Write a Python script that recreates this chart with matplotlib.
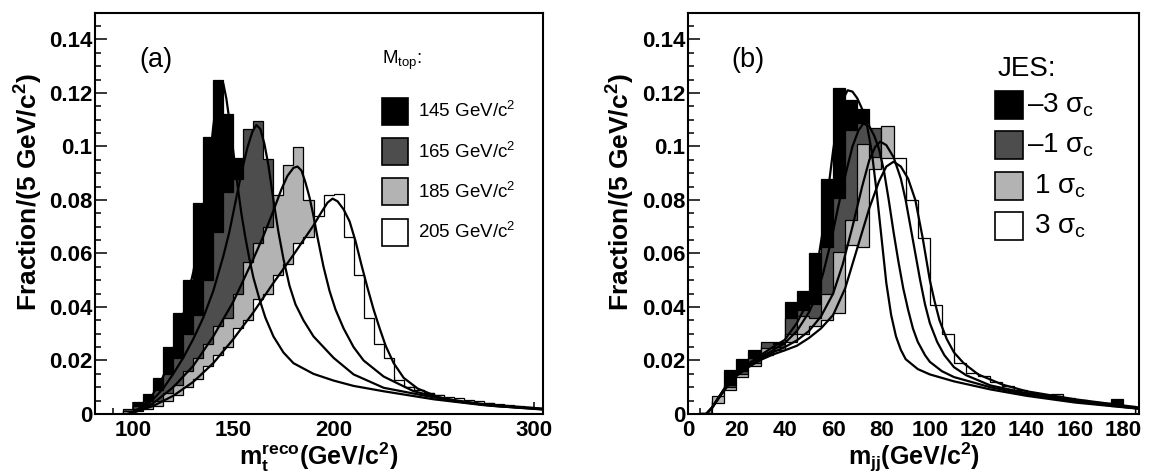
"""
Reconstructed-mass templates: m_t^reco for several top masses (a)
and dijet mass m_jj for several JES shifts (b).
"""

import matplotlib
matplotlib.use("Agg")
import matplotlib.pyplot as plt
import numpy as np
from matplotlib.patches import Rectangle
from matplotlib.ticker import MultipleLocator, FuncFormatter

plt.rcParams.update({
    "font.family": ["Liberation Sans", "DejaVu Sans"],
    "mathtext.fontset": "custom",
    "mathtext.rm": "Liberation Sans",
    "mathtext.it": "Liberation Sans",
    "mathtext.sf": "Liberation Sans",
    "mathtext.bf": "Liberation Sans:bold",
})

# ---------------- panel (a): m_t^reco, 5 GeV bins starting at 80 ----------------
bins_a_start = 80
mtop_labels = ["145 GeV/c$^2$", "165 GeV/c$^2$", "185 GeV/c$^2$", "205 GeV/c$^2$"]

hist_145 = [0, 0, 0, 0.001, 0.0045, 0.0075, 0.0134, 0.025, 0.0376, 0.050, 0.0787, 0.1035,
            0.1247, 0.112, 0.0955, 0.068, 0.048, 0.034, 0.027, 0.022, 0.018, 0.016, 0.014,
            0.013, 0.012, 0.011, 0.010, 0.009, 0.0085, 0.008, 0.007, 0.0065, 0.006, 0.0055,
            0.005, 0.0045, 0.004, 0.0035, 0.003, 0.003, 0.0025, 0.002, 0.002, 0.0015, 0.0015]
hist_165 = [0, 0, 0, 0.002, 0.003, 0.005, 0.009, 0.015, 0.021, 0.030, 0.037, 0.050,
            0.068, 0.083, 0.088, 0.1066, 0.1095, 0.0954, 0.075, 0.055, 0.040, 0.031, 0.025,
            0.021, 0.018, 0.015, 0.013, 0.011, 0.010, 0.009, 0.008, 0.0075, 0.007, 0.0065,
            0.006, 0.0055, 0.005, 0.0045, 0.004, 0.0035, 0.003, 0.0028, 0.0025, 0.002, 0.0018]
hist_185 = [0, 0, 0, 0.001, 0.002, 0.003, 0.005, 0.008, 0.011, 0.016, 0.021, 0.026,
            0.033, 0.036, 0.045, 0.057, 0.064, 0.070, 0.0817, 0.093, 0.0998, 0.080, 0.068,
            0.058, 0.046, 0.036, 0.028, 0.022, 0.017, 0.014, 0.012, 0.010, 0.009, 0.008,
            0.007, 0.006, 0.0055, 0.005, 0.0045, 0.004, 0.0035, 0.003, 0.0028, 0.0025, 0.002]
hist_205 = [0, 0, 0, 0.0005, 0.001, 0.002, 0.003, 0.005, 0.007, 0.010, 0.013, 0.018,
            0.022, 0.025, 0.032, 0.035, 0.043, 0.045, 0.052, 0.056, 0.064, 0.066, 0.074,
            0.0817, 0.0824, 0.066, 0.052, 0.036, 0.026, 0.021, 0.0127, 0.0102, 0.009, 0.008,
            0.0072, 0.0065, 0.0058, 0.0052, 0.0047, 0.0042, 0.0038, 0.0034, 0.003, 0.0027, 0.0024]

fit_145_x = [97, 100, 105, 110, 115, 120, 125, 130, 133, 135, 137.5, 140, 142, 143.5, 145,
             146.5, 148, 150, 152, 154, 156, 158, 160, 163, 166, 170, 175, 180, 190, 200,
             210, 225, 250, 275, 304]
fit_145_y = [0, 0.0008, 0.003, 0.0075, 0.014, 0.024, 0.037, 0.053, 0.065, 0.076, 0.090,
             0.1075, 0.119, 0.124, 0.1235, 0.118, 0.110, 0.098, 0.086, 0.075, 0.066, 0.058,
             0.051, 0.043, 0.036, 0.029, 0.023, 0.019, 0.015, 0.0125, 0.0105, 0.0085,
             0.0055, 0.0033, 0.0017]
fit_165_x = [100, 105, 110, 115, 120, 125, 130, 135, 140, 145, 148, 151, 154, 157, 159.5,
             161.5, 163.5, 165.5, 167.5, 170, 172.5, 175, 178, 181, 185, 190, 200, 210,
             225, 250, 275, 304]
fit_165_y = [0.0005, 0.0025, 0.0055, 0.0095, 0.015, 0.021, 0.028, 0.036, 0.046, 0.059,
             0.068, 0.079, 0.090, 0.0995, 0.1055, 0.108, 0.1065, 0.101, 0.093, 0.080,
             0.068, 0.058, 0.048, 0.041, 0.035, 0.029, 0.021, 0.0148, 0.0098, 0.0062,
             0.0037, 0.002]
fit_185_x = [100, 110, 120, 130, 140, 150, 155, 160, 165, 170, 174, 177, 180, 182, 184,
             186, 188, 190, 192, 195, 198, 201, 205, 210, 215, 225, 240, 260, 280, 304]
fit_185_y = [0.0005, 0.004, 0.010, 0.018, 0.029, 0.042, 0.050, 0.058, 0.0665, 0.076,
             0.084, 0.089, 0.092, 0.0925, 0.091, 0.0865, 0.081, 0.074, 0.066, 0.055, 0.046,
             0.039, 0.032, 0.025, 0.020, 0.014, 0.0085, 0.0048, 0.0031, 0.0019]
fit_205_x = [100, 110, 120, 130, 140, 150, 160, 170, 180, 185, 190, 194, 197, 199.5, 202,
             205, 208, 211, 214, 217, 220, 223, 226, 230, 235, 242, 252, 265, 280, 304]
fit_205_y = [0.0005, 0.003, 0.0068, 0.012, 0.019, 0.028, 0.038, 0.049, 0.0595, 0.065,
             0.0705, 0.0755, 0.079, 0.0805, 0.0795, 0.0765, 0.072, 0.0645, 0.0555, 0.047,
             0.039, 0.032, 0.0255, 0.019, 0.0135, 0.0095, 0.0064, 0.0044, 0.003, 0.0018]

# ---------------- panel (b): m_jj, 5 GeV bins starting at 0 ----------------
bins_b_start = 0
jes_labels = ["\u20133 $\\sigma_c$", "\u20131 $\\sigma_c$", " 1 $\\sigma_c$", " 3 $\\sigma_c$"]

hist_m3 = [0, 0.0004, 0.005, 0.0165, 0.0205, 0.024, 0.0255, 0.027, 0.042, 0.046, 0.060,
           0.088, 0.1217, 0.1175, 0.114, 0.090, 0.060, 0.038, 0.025, 0.018, 0.014, 0.012,
           0.010, 0.009, 0.008, 0.0075, 0.007, 0.0065, 0.006, 0.0055, 0.005, 0.0045, 0.004,
           0.0035, 0.003, 0.0056, 0.002]
hist_m1 = [0, 0.0005, 0.005, 0.011, 0.016, 0.021, 0.027, 0.026, 0.036, 0.039, 0.041,
           0.0626, 0.0806, 0.106, 0.1086, 0.107, 0.095, 0.070, 0.045, 0.030, 0.022, 0.017,
           0.013, 0.011, 0.0095, 0.0085, 0.0075, 0.007, 0.0065, 0.006, 0.0055, 0.005,
           0.0045, 0.004, 0.0035, 0.003, 0.0025]
hist_p1 = [0, 0.0005, 0.0066, 0.010, 0.015, 0.019, 0.0245, 0.025, 0.030, 0.0365, 0.036,
           0.045, 0.0607, 0.0725, 0.101, 0.096, 0.1076, 0.085, 0.060, 0.040, 0.028, 0.020,
           0.015, 0.012, 0.010, 0.009, 0.008, 0.0075, 0.007, 0.0065, 0.0075, 0.0055, 0.005,
           0.0045, 0.004, 0.0035, 0.003]
hist_p3 = [0, 0.0003, 0.004, 0.009, 0.014, 0.018, 0.022, 0.024, 0.027, 0.030, 0.033,
           0.035, 0.0377, 0.063, 0.0626, 0.0915, 0.0955, 0.0955, 0.080, 0.0657, 0.0408,
           0.030, 0.019, 0.0153, 0.0143, 0.0118, 0.0103, 0.0088, 0.0078, 0.007, 0.0062,
           0.0058, 0.0052, 0.0045, 0.004, 0.003, 0.0025]

fit_m3_x = [7.5, 10, 12.5, 15, 17.5, 20, 25, 30, 35, 40, 45, 50, 53, 56, 58, 60, 62, 64,
            66, 68, 70, 72, 74, 76, 78, 80, 82, 84, 86, 88, 90, 95, 100, 110, 125, 140,
            160, 186]
fit_m3_y = [0, 0.0025, 0.006, 0.0095, 0.0125, 0.015, 0.0188, 0.022, 0.025, 0.0277, 0.034,
            0.0427, 0.053, 0.070, 0.084, 0.0985, 0.110, 0.1175, 0.121, 0.1205, 0.118,
            0.114, 0.108, 0.098, 0.083, 0.066, 0.049, 0.037, 0.029, 0.024, 0.0205, 0.0168,
            0.0148, 0.0122, 0.0092, 0.0068, 0.0043, 0.002]
fit_m1_x = [7.5, 10, 12.5, 15, 17.5, 20, 25, 30, 35, 40, 45, 50, 53, 56, 59, 62, 65, 68,
            70.5, 72.5, 75, 77, 79, 81, 83, 85, 87, 89, 91, 93, 95, 98, 100, 105, 110,
            125, 140, 160, 186]
fit_m1_y = [0, 0.0025, 0.006, 0.0093, 0.0122, 0.0147, 0.0183, 0.0213, 0.0238, 0.0265,
            0.031, 0.038, 0.044, 0.053, 0.064, 0.077, 0.089, 0.100, 0.106, 0.1086, 0.1075,
            0.104, 0.099, 0.091, 0.080, 0.068, 0.057, 0.047, 0.039, 0.032, 0.027, 0.022,
            0.0195, 0.016, 0.0138, 0.0100, 0.0073, 0.0046, 0.0021]
fit_p1_x = [7.5, 10, 12.5, 15, 17.5, 20, 25, 30, 35, 40, 45, 50, 55, 60, 64, 68, 72, 75,
            77.5, 79.5, 82, 85, 88, 90, 92, 94, 96, 98, 100, 103, 106, 110, 115, 125, 140,
            160, 186]
fit_p1_y = [0, 0.0024, 0.0058, 0.009, 0.012, 0.0145, 0.018, 0.0208, 0.023, 0.025, 0.0275,
            0.031, 0.0365, 0.045, 0.056, 0.070, 0.085, 0.095, 0.100, 0.1018, 0.1005, 0.096,
            0.088, 0.080, 0.070, 0.060, 0.050, 0.041, 0.034, 0.027, 0.022, 0.0175, 0.0145,
            0.0107, 0.0078, 0.005, 0.0022]
fit_p3_x = [7.5, 10, 12.5, 15, 17.5, 20, 25, 30, 35, 40, 45, 50, 55, 60, 65, 70, 75, 79,
            82, 85, 88, 91, 94, 97, 100, 102, 104, 107, 110, 114, 120, 130, 140, 160, 186]
fit_p3_y = [0, 0.0023, 0.0056, 0.0088, 0.0117, 0.0142, 0.0175, 0.0202, 0.0222, 0.0238,
            0.0255, 0.0284, 0.032, 0.037, 0.047, 0.062, 0.077, 0.087, 0.0925, 0.0943,
            0.0925, 0.088, 0.080, 0.066, 0.050, 0.042, 0.035, 0.028, 0.023, 0.019, 0.0148,
            0.011, 0.0085, 0.0055, 0.0025]

FILL_COLORS = ["#000000", "#4d4d4d", "#b3b3b3", "#ffffff"]
BIN_WIDTH = 5


def draw_histos(ax, start, histos, fits):
    for values, color in zip(histos, FILL_COLORS):
        edges = start + BIN_WIDTH * np.arange(len(values) + 1)
        ax.stairs(values, edges, fill=True, facecolor=color, edgecolor="black",
                  linewidth=0.9, zorder=2)
    for fx, fy in fits:
        ax.plot(fx, fy, color="black", linewidth=1.6, zorder=3)


def style_axes(ax, xmajor, xminor):
    ax.set_ylim(0, 0.15)
    ax.xaxis.set_major_locator(MultipleLocator(xmajor))
    ax.xaxis.set_minor_locator(MultipleLocator(xminor))
    ax.yaxis.set_major_locator(MultipleLocator(0.02))
    ax.yaxis.set_minor_locator(MultipleLocator(0.005))
    ax.yaxis.set_major_formatter(FuncFormatter(lambda v, p: f"{v:g}"))
    ax.tick_params(which="both", direction="in", top=False, right=False, width=1.1)
    ax.tick_params(which="major", length=8.5)
    ax.tick_params(which="minor", length=4.3)
    ax.tick_params(axis="x", pad=4)
    ax.tick_params(axis="y", pad=2)
    for lab in ax.get_xticklabels() + ax.get_yticklabels():
        lab.set_fontsize(16)
        lab.set_fontweight("bold")
    for sp in ax.spines.values():
        sp.set_linewidth(1.5)
    ax.set_ylabel("Fraction/(5 GeV/c$^{\\mathbf{2}}$)", fontsize=19, fontweight="bold")
    ax.yaxis.set_label_coords(-0.148, 0.553)
    ax.yaxis.label.set_verticalalignment("center")


def draw_legend(ax, title, title_xy, title_size, labels, x0, rows, w, h, text_x, size):
    ax.text(title_xy[0], title_xy[1], title, transform=ax.transAxes, fontsize=title_size,
            va="center", ha="left")
    for label, color, yc in zip(labels, FILL_COLORS, rows):
        ax.add_patch(Rectangle((x0, yc - h / 2), w, h, transform=ax.transAxes,
                               facecolor=color, edgecolor="black", linewidth=1.2,
                               clip_on=False, zorder=4))
        ax.text(text_x, yc, label, transform=ax.transAxes, fontsize=size,
                va="center", ha="left")


def main():
    fig = plt.figure(figsize=(11.49, 4.75), dpi=100)
    ax_a = fig.add_axes([0.0827, 0.1284, 0.3899, 0.8449])
    ax_b = fig.add_axes([0.5988, 0.1284, 0.3925, 0.8449])

    # (a) top-mass templates
    draw_histos(ax_a, bins_a_start, [hist_145, hist_165, hist_185, hist_205],
                [(fit_145_x, fit_145_y), (fit_165_x, fit_165_y),
                 (fit_185_x, fit_185_y), (fit_205_x, fit_205_y)])
    ax_a.set_xlim(81, 304.5)
    style_axes(ax_a, 50, 10)
    ax_a.set_xlabel("$\\mathbf{m}_{\\mathbf{t}}^{\\mathbf{reco}}$(GeV/c$^{\\mathbf{2}}$)",
                    fontsize=18, fontweight="bold")
    ax_a.xaxis.set_label_coords(0.5, -0.107)
    ax_a.xaxis.label.set_verticalalignment("center")
    ax_a.text(0.136, 0.882, "(a)", transform=ax_a.transAxes, fontsize=19.5,
              ha="center", va="center")
    draw_legend(ax_a, "M$_{top}$:", (0.641, 0.88), 13.5, mtop_labels,
                0.6406, [0.755, 0.6535, 0.5535, 0.4535], 0.058, 0.0673, 0.721, 13.5)

    # (b) JES templates
    draw_histos(ax_b, bins_b_start, [hist_m3, hist_m1, hist_p1, hist_p3],
                [(fit_m3_x, fit_m3_y), (fit_m1_x, fit_m1_y),
                 (fit_p1_x, fit_p1_y), (fit_p3_x, fit_p3_y)])
    ax_b.set_xlim(0, 186.5)
    style_axes(ax_b, 20, 5)
    ax_b.set_xlabel("$\\mathbf{m}_{\\mathbf{jj}}$(GeV/c$^{\\mathbf{2}}$)",
                    fontsize=18, fontweight="bold")
    ax_b.xaxis.set_label_coords(0.5, -0.107)
    ax_b.xaxis.label.set_verticalalignment("center")
    ax_b.text(0.133, 0.882, "(b)", transform=ax_b.transAxes, fontsize=19.5,
              ha="center", va="center")
    draw_legend(ax_b, "JES:", (0.687, 0.86), 20, jes_labels,
                0.6807, [0.770, 0.6706, 0.5685, 0.4688], 0.062, 0.0698, 0.7517, 20)

    fig.savefig("out.png", dpi=100)
    plt.close(fig)


if __name__ == "__main__":
    main()
